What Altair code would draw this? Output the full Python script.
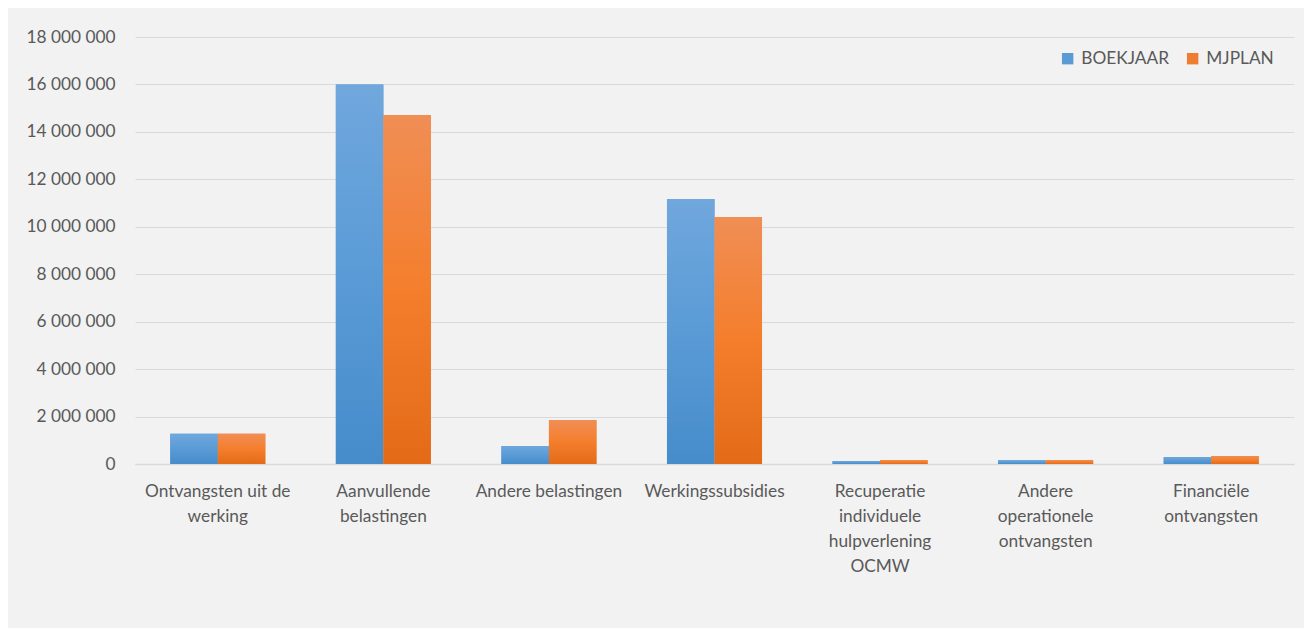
import altair as alt
import pandas as pd

categories = [
    "Ontvangsten uit de|werking",
    "Aanvullende|belastingen",
    "Andere belastingen",
    "Werkingssubsidies",
    "Recuperatie|individuele|hulpverlening|OCMW",
    "Andere|operationele|ontvangsten",
    "Financiële|ontvangsten",
]
boekjaar = [1270000, 16000000, 760000, 11170000, 130000, 160000, 300000]
mjplan = [1270000, 14710000, 1855000, 10410000, 170000, 170000, 340000]
series = ["BOEKJAAR", "MJPLAN"]

rows = []
for c, b, m in zip(categories, boekjaar, mjplan):
    rows.append({"cat": c, "serie": "BOEKJAAR", "val": b})
    rows.append({"cat": c, "serie": "MJPLAN", "val": m})
df = pd.DataFrame(rows)

FONT = "Lato"
TXT = "#595959"
GRID = "#d9d9d9"
FS = 17.3

x_enc = alt.X(
    "cat:N",
    sort=categories,
    scale=alt.Scale(paddingInner=0.426, paddingOuter=0.213),
    axis=alt.Axis(
        title=None,
        labelAngle=0,
        labelExpr="split(datum.label, '|')",
        labelFont=FONT,
        labelFontSize=FS,
        labelColor=TXT,
        labelPadding=18,
        labelLineHeight=25,
        labelLimit=300,
        ticks=False,
        domain=True,
        domainColor=GRID,
        domainWidth=1.5,
        grid=False,
    ),
)
y_enc = alt.Y(
    "val:Q",
    scale=alt.Scale(domain=[0, 18000000], nice=False),
    axis=alt.Axis(
        title=None,
        values=list(range(0, 18000001, 2000000)),
        labelExpr="replace(format(datum.value, ','), /,/g, ' ')",
        labelFont=FONT,
        labelFontSize=FS,
        labelColor=TXT,
        labelPadding=20,
        ticks=False,
        domain=False,
        gridColor=GRID,
        gridWidth=1.2,
    ),
)
xo_enc = alt.XOffset("serie:N", scale=alt.Scale(domain=series, paddingInner=0, paddingOuter=0))

base_bars = alt.Chart(df).mark_bar().encode(
    x=x_enc,
    y=y_enc,
    xOffset=xo_enc,
    color=alt.Color(
        "serie:N",
        scale=alt.Scale(domain=series, range=["#5b9bd5", "#ed7d31"]),
        legend=alt.Legend(
            title=None,
            orient="none",
            legendX=924,
            legendY=13,
            direction="horizontal",
            symbolType="square",
            symbolSize=130,
            symbolStrokeWidth=0,
            labelFont=FONT,
            labelFontSize=FS,
            labelColor=TXT,
            columnPadding=14,
            labelOffset=5,
        ),
    ),
)


def grad(top, mid, bot):
    return alt.Gradient(
        gradient="linear",
        stops=[
            alt.GradientStop(color=top, offset=0),
            alt.GradientStop(color=mid, offset=0.5),
            alt.GradientStop(color=bot, offset=1),
        ],
        x1=0, x2=0, y1=0, y2=1,
    )


blue_bars = alt.Chart(df).transform_filter(alt.datum.serie == "BOEKJAAR").mark_bar(
    color=grad("#70a7dd", "#5a9bd6", "#468ccb")
).encode(x=x_enc, y=y_enc, xOffset=xo_enc)

orange_bars = alt.Chart(df).transform_filter(alt.datum.serie == "MJPLAN").mark_bar(
    color=grad("#f08e55", "#f47e2c", "#e36b18")
).encode(x=x_enc, y=y_enc, xOffset=xo_enc)

chart = alt.layer(base_bars, blue_bars, orange_bars).properties(
    width=1159,
    height=427,
    background="#f2f2f2",
    padding={"left": 127, "top": 29, "right": 10, "bottom": 164},
    autosize=alt.AutoSizeParams(type="none"),
).configure_view(stroke=None)

chart.save("out.html", embed_options={"renderer": "svg", "actions": False})
